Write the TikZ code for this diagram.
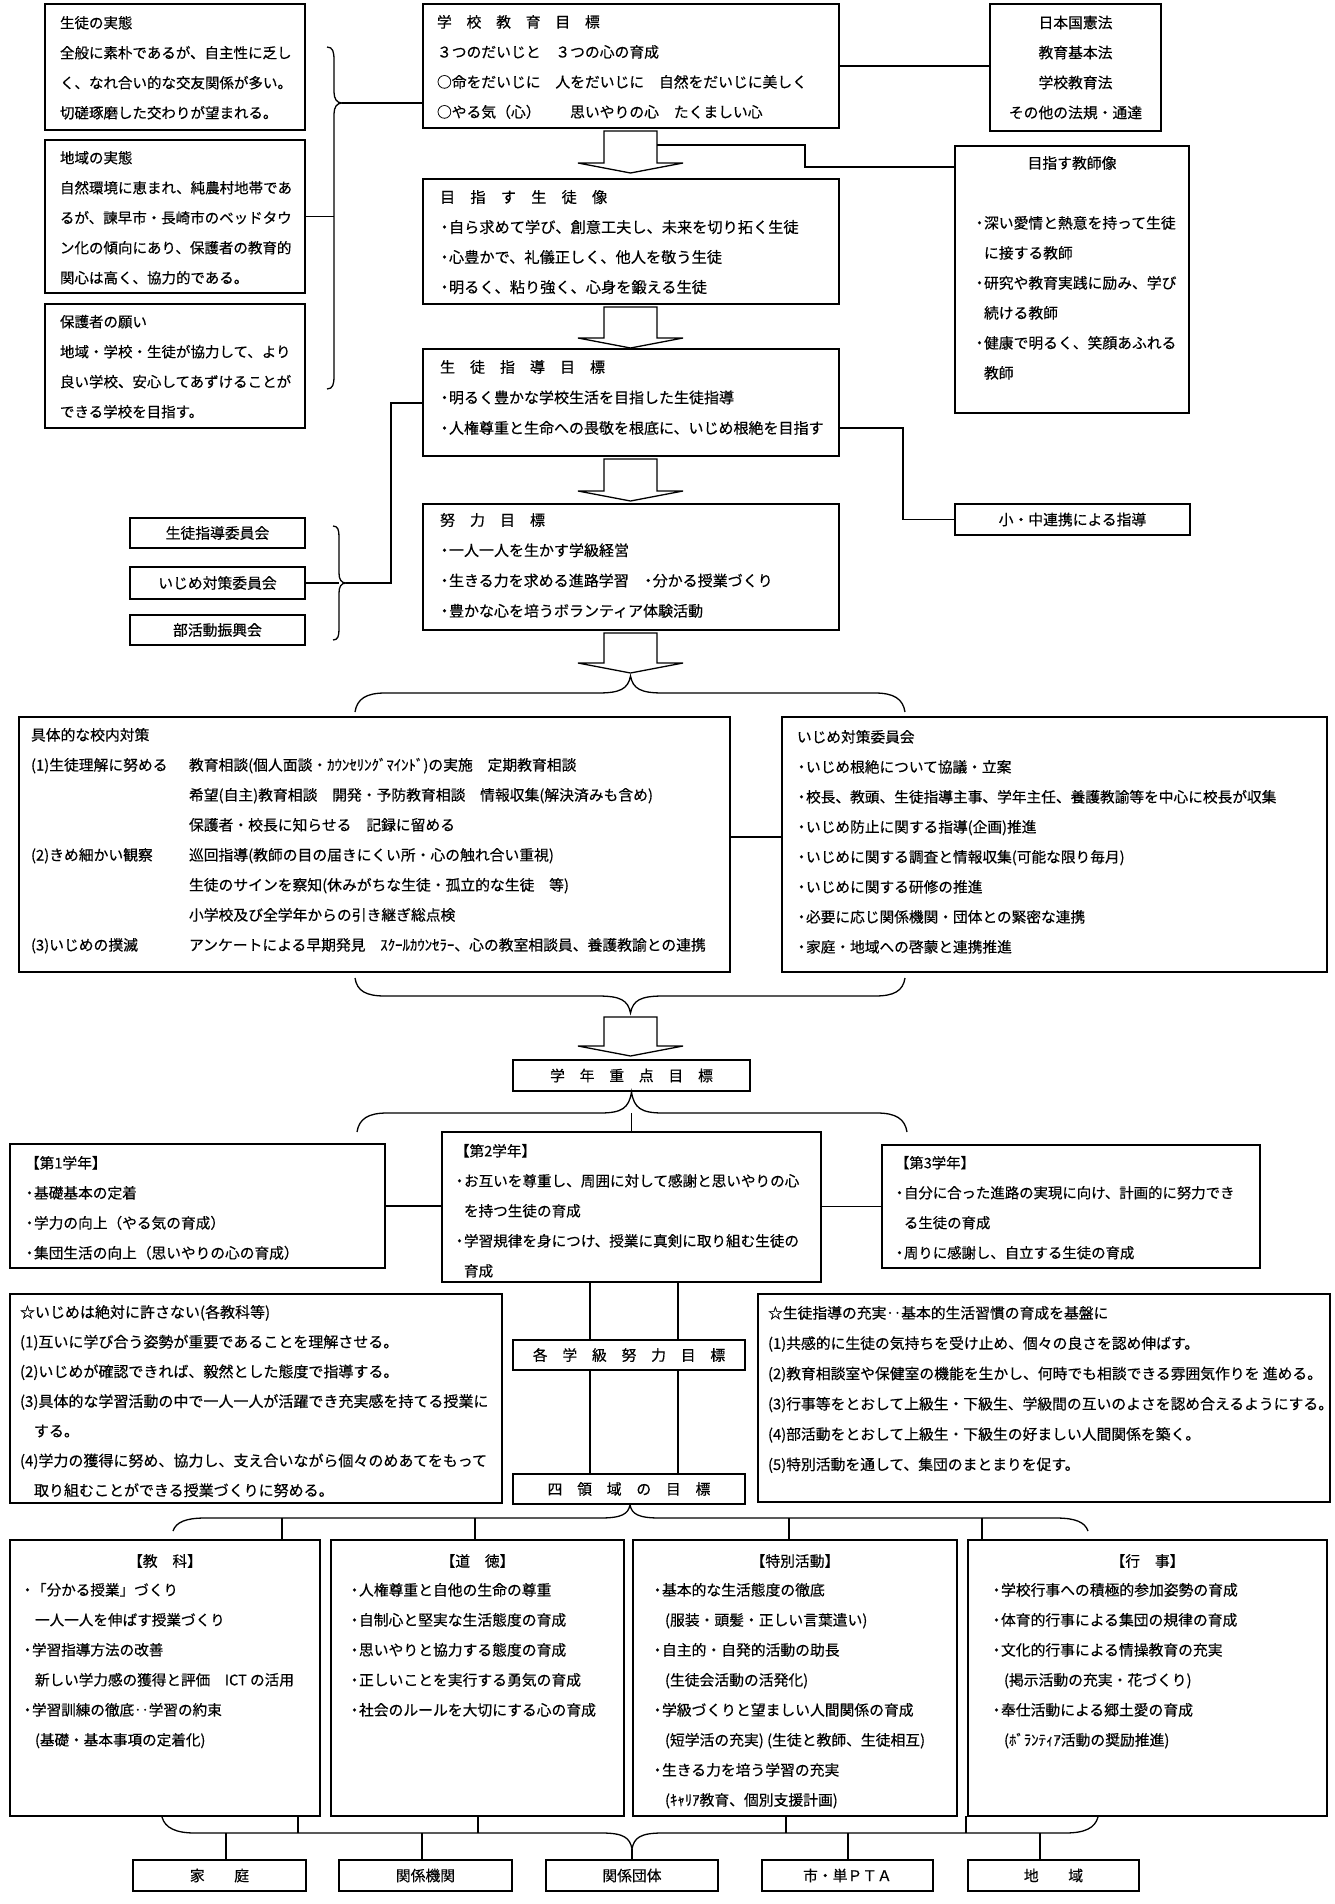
\documentclass[tikz,border=0pt]{standalone}
\usepackage{fontspec}
\setmainfont{Noto Sans CJK JP}[FakeBold=0.4]
\usetikzlibrary{fit}
\newcommand{\bl}{\makebox[9pt][c]{・}}
\newcommand{\ci}{\hspace*{9pt}}
\begin{document}
\begin{tikzpicture}[x=1pt,y=-1pt,
  box/.style={draw,line width=1.3pt,inner sep=0pt,outer sep=0pt},
  txt/.style={inner sep=0pt,outer sep=0pt,anchor=north west,align=left,font=\fontsize{14.8}{30}\selectfont},
  ctr/.style={inner sep=0pt,outer sep=0pt,align=center,font=\fontsize{14.8}{30}\selectfont},
  ln/.style={line width=1.2pt},
  brc/.style={line width=1.3pt},
  arr/.style={draw,line width=1.3pt,line join=miter}]
\useasboundingbox (0,0) rectangle (1335,1904);

% ---------- boxes ----------
\node[box,fit={(45,4) (305,130)}] (A) {};
\node[box,fit={(45,140) (305,293)}] (B) {};
\node[box,fit={(45,304) (305,428)}] (C) {};
\node[box,fit={(423,4) (839,128)}] (D) {};
\node[box,fit={(990,4) (1161,131)}] (E) {};
\node[box,fit={(955,146) (1189,413)}] (F) {};
\node[box,fit={(423,179) (839,304)}] (G) {};
\node[box,fit={(423,349) (839,456)}] (H) {};
\node[box,fit={(423,504) (839,630)}] (I) {};
\node[box,fit={(130,518) (305,548)}] (C1) {};
\node[box,fit={(130,567) (305,599)}] (C2) {};
\node[box,fit={(130,615) (305,645)}] (C3) {};
\node[box,fit={(955,504) (1190,535)}] (KS) {};
\node[box,fit={(19,717) (730,972)}] (J) {};
\node[box,fit={(782,717) (1327,972)}] (K) {};
\node[box,fit={(513,1060) (750,1091)}] (L) {};
\node[box,fit={(10,1144) (385,1268)}] (M) {};
\node[box,fit={(442,1132) (821,1282)}] (N) {};
\node[box,fit={(882,1145) (1260,1268)}] (O) {};
\node[box,fit={(10,1294) (502,1503)}] (S) {};
\node[box,fit={(758,1294) (1330,1502)}] (R) {};
\node[box,fit={(513,1340) (745,1370)}] (P) {};
\node[box,fit={(513,1474) (745,1504)}] (Q) {};
\node[box,fit={(10,1540) (320,1816)}] (T1) {};
\node[box,fit={(331,1540) (624,1816)}] (T2) {};
\node[box,fit={(633,1540) (957,1816)}] (T3) {};
\node[box,fit={(968,1540) (1327,1816)}] (T4) {};
\node[box,fit={(133,1860) (306,1891)}] (BB1) {};
\node[box,fit={(339,1860) (512,1891)}] (BB2) {};
\node[box,fit={(546,1860) (718,1891)}] (BB3) {};
\node[box,fit={(762,1860) (933,1891)}] (BB4) {};
\node[box,fit={(968,1860) (1139,1891)}] (BB5) {};

% ---------- texts ----------
\node[txt,font=\fontsize{14.5}{30}\selectfont] (At) at (60,16) {生徒の実態\\全般に素朴であるが、自主性に乏し\\く、なれ合い的な交友関係が多い。\\切磋琢磨した交わりが望まれる。};
\node[txt,font=\fontsize{14.5}{30}\selectfont] (Bt) at (60,151) {地域の実態\\自然環境に恵まれ、純農村地帯であ\\るが、諫早市・長崎市のベッドタウ\\ン化の傾向にあり、保護者の教育的\\関心は高く、協力的である。};
\node[txt,font=\fontsize{14.5}{30}\selectfont] (Ct) at (60,315) {保護者の願い\\地域・学校・生徒が協力して、より\\良い学校、安心してあずけることが\\できる学校を目指す。};
\node[txt] (Dt) at (437,15) {学　校　教　育　目　標\\３つのだいじと　３つの心の育成\\○命をだいじに　人をだいじに　自然をだいじに美しく\\○やる気（心）　　思いやりの心　たくましい心};
\node[ctr] (Et) at (E.center) {日本国憲法\\教育基本法\\学校教育法\\その他の法規・通達};
\node[ctr] (Ft1) at (1072,163) {目指す教師像};
\node[txt] (Ft2) at (975,216) {\bl 深い愛情と熱意を持って生徒\\\ci に接する教師\\\bl 研究や教育実践に励み、学び\\\ci 続ける教師\\\bl 健康で明るく、笑顔あふれる\\\ci 教師};
\node[txt,font=\fontsize{15.2}{30}\selectfont] (Gt) at (440,190) {目　指　す　生　徒　像\\\bl 自ら求めて学び、創意工夫し、未来を切り拓く生徒\\\bl 心豊かで、礼儀正しく、他人を敬う生徒\\\bl 明るく、粘り強く、心身を鍛える生徒};
\node[txt,font=\fontsize{15}{30.5}\selectfont] (Ht) at (440,360) {生　徒　指　導　目　標\\\bl 明るく豊かな学校生活を目指した生徒指導\\\bl 人権尊重と生命への畏敬を根底に、いじめ根絶を目指す};
\node[txt,font=\fontsize{15}{30.3}\selectfont] (It) at (440,513) {努　力　目　標\\\bl 一人一人を生かす学級経営\\\bl 生きる力を求める進路学習　\bl 分かる授業づくり\\\bl 豊かな心を培うボランティア体験活動};
\node[ctr] (C1t) at (C1.center) {生徒指導委員会};
\node[ctr] (C2t) at (C2.center) {いじめ対策委員会};
\node[ctr] (C3t) at (C3.center) {部活動振興会};
\node[ctr] (KSt) at (KS.center) {小・中連携による指導};
\node[txt] (Jt) at (31,728) {具体的な校内対策\\
\makebox[158pt][l]{(1)生徒理解に努める}教育相談(個人面談・ｶｳﾝｾﾘﾝｸﾞﾏｲﾝﾄﾞ)の実施　定期教育相談\\
\hspace*{158pt}希望(自主)教育相談　開発・予防教育相談　情報収集(解決済みも含め)\\
\hspace*{158pt}保護者・校長に知らせる　記録に留める\\
\makebox[158pt][l]{(2)きめ細かい観察}巡回指導(教師の目の届きにくい所・心の触れ合い重視)\\
\hspace*{158pt}生徒のサインを察知(休みがちな生徒・孤立的な生徒　等)\\
\hspace*{158pt}小学校及び全学年からの引き継ぎ総点検\\
\makebox[158pt][l]{(3)いじめの撲滅}アンケートによる早期発見　ｽｸｰﾙｶｳﾝｾﾗｰ、心の教室相談員、養護教諭との連携};
\node[txt,font=\fontsize{14.7}{30}\selectfont] (Kt) at (797,730) {いじめ対策委員会\\\bl いじめ根絶について協議・立案\\\bl 校長、教頭、生徒指導主事、学年主任、養護教諭等を中心に校長が収集\\\bl いじめ防止に関する指導(企画)推進\\\bl いじめに関する調査と情報収集(可能な限り毎月)\\\bl いじめに関する研修の推進\\\bl 必要に応じ関係機関・団体との緊密な連携\\\bl 家庭・地域への啓蒙と連携推進};
\node[ctr] (Lt) at (L.center) {学　年　重　点　目　標};
\node[txt,font=\fontsize{14.7}{30}\selectfont] (Mt) at (25,1156) {【第1学年】\\\bl 基礎基本の定着\\\bl 学力の向上（やる気の育成）\\\bl 集団生活の向上（思いやりの心の育成）};
\node[txt,font=\fontsize{14.6}{30}\selectfont] (Nt) at (455,1144) {【第2学年】\\\bl お互いを尊重し、周囲に対して感謝と思いやりの心\\\ci を持つ生徒の育成\\\bl 学習規律を身につけ、授業に真剣に取り組む生徒の\\\ci 育成};
\node[txt,font=\fontsize{14.4}{30}\selectfont] (Ot) at (895,1156) {【第3学年】\\\bl 自分に合った進路の実現に向け、計画的に努力でき\\\ci る生徒の育成\\\bl 周りに感謝し、自立する生徒の育成};
\node[txt,font=\fontsize{15}{29.7}\selectfont] (St) at (20,1305) {☆いじめは絶対に許さない(各教科等)\\(1)互いに学び合う姿勢が重要であることを理解させる。\\(2)いじめが確認できれば、毅然とした態度で指導する。\\(3)具体的な学習活動の中で一人一人が活躍でき充実感を持てる授業に\\\hspace*{14pt}する。\\(4)学力の獲得に努め、協力し、支え合いながら個々のめあてをもって\\\hspace*{14pt}取り組むことができる授業づくりに努める。};
\node[txt,font=\fontsize{14.8}{30.3}\selectfont] (Rt) at (768,1306) {☆生徒指導の充実‥基本的生活習慣の育成を基盤に\\(1)共感的に生徒の気持ちを受け止め、個々の良さを認め伸ばす。\\(2)教育相談室や保健室の機能を生かし、何時でも相談できる雰囲気作りを 進める。\\(3)行事等をとおして上級生・下級生、学級間の互いのよさを認め合えるようにする。\\(4)部活動をとおして上級生・下級生の好ましい人間関係を築く。\\(5)特別活動を通して、集団のまとまりを促す。};
\node[ctr] (Pt) at (P.center) {各　学　級　努　力　目　標};
\node[ctr] (Qt) at (Q.center) {四　領　域　の　目　標};
\node[ctr] (T1h) at (165,1561) {【教　科】};
\node[txt,font=\fontsize{14.6}{30}\selectfont] (T1t) at (23,1583) {\bl 「分かる授業」づくり\\\hspace*{12pt}一人一人を伸ばす授業づくり\\\bl 学習指導方法の改善\\\hspace*{12pt}新しい学力感の獲得と評価　ICT の活用\\\bl 学習訓練の徹底‥学習の約束\\\hspace*{12pt}(基礎・基本事項の定着化)};
\node[ctr] (T2h) at (477.5,1561) {【道　徳】};
\node[txt] (T2t) at (350,1583) {\bl 人権尊重と自他の生命の尊重\\\bl 自制心と堅実な生活態度の育成\\\bl 思いやりと協力する態度の育成\\\bl 正しいことを実行する勇気の育成\\\bl 社会のルールを大切にする心の育成};
\node[ctr] (T3h) at (795,1561) {【特別活動】};
\node[txt] (T3t) at (653,1583) {\bl 基本的な生活態度の徹底\\\hspace*{12pt}(服装・頭髪・正しい言葉遣い)\\\bl 自主的・自発的活動の助長\\\hspace*{12pt}(生徒会活動の活発化)\\\bl 学級づくりと望ましい人間関係の育成\\\hspace*{12pt}(短学活の充実) (生徒と教師、生徒相互)\\\bl 生きる力を培う学習の充実\\\hspace*{12pt}(ｷｬﾘｱ教育、個別支援計画)};
\node[ctr] (T4h) at (1147.5,1561) {【行　事】};
\node[txt] (T4t) at (992,1583) {\bl 学校行事への積極的参加姿勢の育成\\\bl 体育的行事による集団の規律の育成\\\bl 文化的行事による情操教育の充実\\\hspace*{12pt}(掲示活動の充実・花づくり)\\\bl 奉仕活動による郷土愛の育成\\\hspace*{12pt}(ﾎﾞﾗﾝﾃｨｱ活動の奨励推進)};
\node[ctr] (BB1t) at (BB1.center) {家　　庭};
\node[ctr] (BB2t) at (BB2.center) {関係機関};
\node[ctr] (BB3t) at (BB3.center) {関係団体};
\node[ctr] (BB4t) at (BB4.center) {市・単ＰＴＡ};
\node[ctr] (BB5t) at (BB5.center) {地　　域};

% ---------- block arrows ----------
\foreach \t/\p in {131/173, 307/348, 459/501, 633/673, 1017/1056}{
  \draw[arr] (604,\t) -- (657,\t) -- (657,\p-10) -- (683,\p-10) -- (630.5,\p) -- (578,\p-10) -- (604,\p-10) -- cycle;
}
\coordinate (a1r) at (657,145);

% ---------- braces ----------
\draw[brc] (327,47) .. controls (333,47) and (334,52) .. (334,60) -- (334,92) .. controls (334,99) and (337,103) .. (342,103) .. controls (337,103) and (334,107) .. (334,114) -- (334,376) .. controls (334,384) and (333,389) .. (327,389);
\coordinate (br1t) at (342,103);
\coordinate (br1s) at (334,216.5);
\draw[brc] (333,526) .. controls (338,526) and (339,530) .. (339,537) -- (339,573) .. controls (339,579) and (341,583) .. (346,583) .. controls (341,583) and (339,587) .. (339,593) -- (339,629) .. controls (339,636) and (338,640) .. (333,640);
\coordinate (br2t) at (346,583);
\coordinate (br2s) at (339,583);
\draw[brc] (355,712) .. controls (357,699) and (366,693) .. (385,693) -- (598,693) .. controls (620,693) and (628,689) .. (630.5,676) .. controls (633,689) and (641,693) .. (663,693) -- (875,693) .. controls (894,693) and (903,699) .. (905,712);
\draw[brc] (355,978) .. controls (357,991) and (366,996) .. (385,996) -- (598,996) .. controls (620,996) and (628,1000) .. (630.5,1013) .. controls (633,1000) and (641,996) .. (663,996) -- (875,996) .. controls (894,996) and (903,991) .. (905,978);
\draw[brc] (357,1132) .. controls (359,1119) and (368,1113) .. (387,1113) -- (600,1113) .. controls (622,1113) and (629,1108) .. (631.5,1092) .. controls (634,1108) and (641,1113) .. (663,1113) -- (877,1113) .. controls (896,1113) and (905,1119) .. (907,1132);
\coordinate (b3s) at (631.5,1113);
\draw[brc] (173,1531) .. controls (176,1522) and (186,1518) .. (205,1518) -- (600,1518) .. controls (622,1518) and (628,1514) .. (630,1505) .. controls (632,1514) and (638,1518) .. (660,1518) -- (1056,1518) .. controls (1075,1518) and (1085,1522) .. (1088,1531);
\draw[brc] (162,1817) .. controls (165,1828) and (176,1833) .. (195,1833) -- (602,1833) .. controls (624,1833) and (630,1838) .. (632,1849) .. controls (634,1838) and (640,1833) .. (662,1833) -- (1065,1833) .. controls (1085,1833) and (1095,1828) .. (1098,1817);
\coordinate (b5t) at (632,1849);

% ---------- connectors ----------
\draw[ln] (B.east) -- (br1s);
\draw[ln] (br1t) -- (br1t -| D.west);
\draw[ln] (D.east) -- (D.east -| E.west);
\draw[ln] (a1r) -- ++(148,0) |- ([yshift=-21pt]F.north west);
\draw[ln] (C2.east) -- (br2s);
\draw[ln] (br2t) -- (391,583) |- ([yshift=-54pt]H.north west);
\draw[ln] ([yshift=-79pt]H.north east) -- ++(64,0) |- (KS.west);
\draw[ln] ([yshift=-120pt]J.north east) -- ([yshift=-120pt]J.north east -| K.west);
\draw[ln] (b3s) -- (N.north);
\draw[ln] (M.east) -- (M.east -| N.west);
\draw[ln] (O.west -| N.east) -- (O.west);
\draw[ln] ([xshift=77pt]P.north west) -- ([xshift=77pt]P.north west |- N.south);
\draw[ln] ([xshift=165pt]P.north west) -- ([xshift=165pt]P.north west |- N.south);
\draw[ln] ([xshift=77pt]P.south west) -- ([xshift=77pt]Q.north west);
\draw[ln] ([xshift=165pt]P.south west) -- ([xshift=165pt]Q.north west);
% brace 4 down to the four areas
\draw[ln] ([xshift=272pt]T1.north west) -- ++(0,-22);
\draw[ln] ([xshift=144pt]T2.north west) -- ++(0,-22);
\draw[ln] ([xshift=156pt]T3.north west) -- ++(0,-22);
\draw[ln] ([xshift=14pt]T4.north west) -- ++(0,-22);
% areas up to brace 5
\draw[ln] ([xshift=288pt]T1.south west) -- ++(0,17);
\draw[ln] ([xshift=147pt]T2.south west) -- ++(0,17);
\draw[ln] ([xshift=153pt]T3.south west) -- ++(0,17);
\draw[ln] ([xshift=-2pt]T4.south west) -- ++(0,17);
% brace 5 down to partners
\draw[ln] ([xshift=93pt]BB1.north west) -- ++(0,-27);
\draw[ln] ([xshift=83pt]BB2.north west) -- ++(0,-27);
\draw[ln] (b5t) -- (BB3.north);
\draw[ln] ([xshift=86pt]BB4.north west) -- ++(0,-27);
\draw[ln] ([xshift=72pt]BB5.north west) -- ++(0,-27);
\end{tikzpicture}
\end{document}
